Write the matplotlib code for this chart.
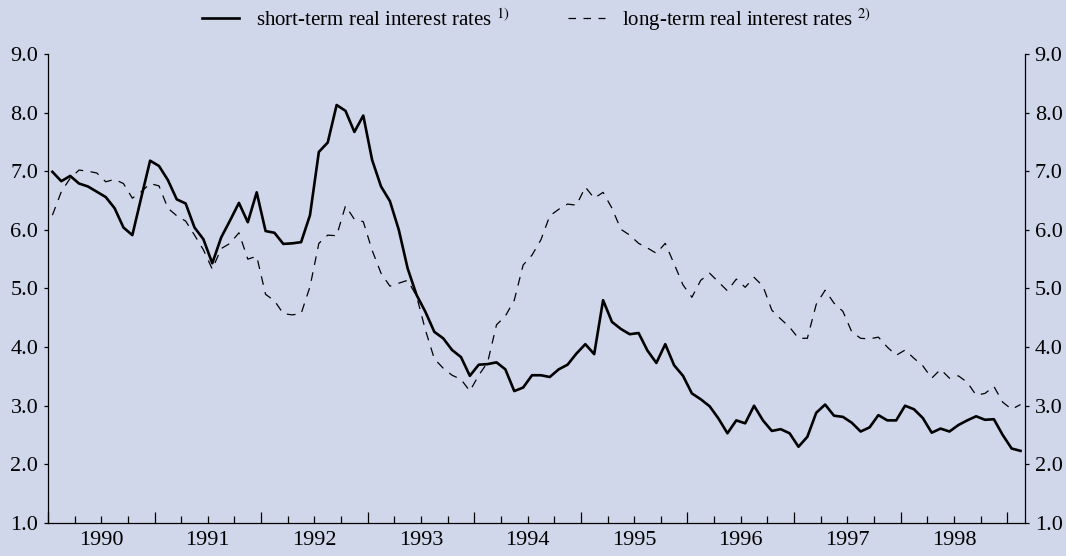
import matplotlib
matplotlib.use("Agg")
import matplotlib.pyplot as plt
import numpy as np
from matplotlib.ticker import MultipleLocator, NullFormatter

# monthly observations, Jan 1990 - Feb 1999
short_term = [
    6.99, 6.83, 6.92, 6.79, 6.74, 6.65, 6.56, 6.37, 6.04, 5.91,
    6.55, 7.18, 7.09, 6.85, 6.52, 6.45, 6.04, 5.84, 5.43, 5.87,
    6.16, 6.46, 6.13, 6.64, 5.98, 5.95, 5.76, 5.77, 5.79, 6.25,
    7.33, 7.49, 8.13, 8.03, 7.67, 7.95, 7.19, 6.74, 6.49, 6.00,
    5.34, 4.89, 4.60, 4.26, 4.15, 3.95, 3.83, 3.51, 3.70, 3.71,
    3.74, 3.62, 3.25, 3.31, 3.52, 3.52, 3.49, 3.62, 3.70, 3.89,
    4.05, 3.88, 4.80, 4.43, 4.31, 4.22, 4.24, 3.94, 3.73, 4.05,
    3.69, 3.51, 3.21, 3.11, 2.99, 2.78, 2.53, 2.75, 2.70, 3.00,
    2.75, 2.57, 2.60, 2.53, 2.30, 2.47, 2.88, 3.02, 2.83, 2.81,
    2.71, 2.56, 2.63, 2.84, 2.75, 2.75, 3.00, 2.94, 2.79, 2.54,
    2.61, 2.56, 2.67, 2.75, 2.82, 2.76, 2.77, 2.50, 2.27, 2.23,
]
long_term = [
    6.25, 6.65, 6.88, 7.02, 7.00, 6.97, 6.82, 6.86, 6.79, 6.54,
    6.65, 6.79, 6.75, 6.37, 6.24, 6.15, 5.91, 5.66, 5.33, 5.68,
    5.77, 5.95, 5.50, 5.55, 4.90, 4.79, 4.57, 4.55, 4.57, 5.03,
    5.77, 5.91, 5.90, 6.41, 6.18, 6.14, 5.65, 5.26, 5.04, 5.09,
    5.14, 4.87, 4.29, 3.80, 3.64, 3.52, 3.45, 3.25, 3.52, 3.74,
    4.38, 4.53, 4.80, 5.40, 5.57, 5.83, 6.24, 6.35, 6.44, 6.42,
    6.73, 6.54, 6.64, 6.37, 6.01, 5.91, 5.77, 5.69, 5.60, 5.77,
    5.42, 5.06, 4.85, 5.14, 5.26, 5.11, 4.96, 5.16, 5.02, 5.19,
    5.04, 4.63, 4.48, 4.34, 4.15, 4.15, 4.73, 4.97, 4.75, 4.61,
    4.26, 4.15, 4.14, 4.17, 4.00, 3.86, 3.95, 3.81, 3.68, 3.47,
    3.62, 3.47, 3.51, 3.40, 3.18, 3.21, 3.33, 3.06, 2.94, 3.02,
]
years = ["1990", "1991", "1992", "1993", "1994", "1995", "1996", "1997", "1998"]
y_ticks = [1.0, 2.0, 3.0, 4.0, 5.0, 6.0, 7.0, 8.0, 9.0]

bg = "#d1d7eb"
plt.rcParams["font.family"] = ["Liberation Serif", "DejaVu Serif"]
plt.rcParams["mathtext.fontset"] = "stix"

fig = plt.figure(figsize=(10.66, 5.56), dpi=100, facecolor=bg)
ax = fig.add_axes([0.045, 0.0594, 0.9165, 0.8435], facecolor=bg)

months = np.arange(len(short_term)) + 0.5
ax.plot(months, short_term, color="black", linewidth=1.9,
        label="short-term real interest rates $^{1)}$")
ax.plot(months, long_term, color="black", linewidth=0.9, dashes=(7, 6),
        label="long-term real interest rates $^{2)}$")

ax.set_xlim(0, len(short_term))
ax.set_ylim(1, 9)

ax.xaxis.set_major_locator(MultipleLocator(12))
ax.xaxis.set_minor_locator(MultipleLocator(3))
ax.xaxis.set_major_formatter(NullFormatter())
ax.xaxis.set_minor_formatter(NullFormatter())
for i, yr in enumerate(years):
    ax.text(12 * i + 6, -0.018, yr, transform=ax.get_xaxis_transform(),
            ha="center", va="top", fontsize=16)

ax.set_yticks(y_ticks)
ax.set_yticklabels([f"{v:.1f}" for v in y_ticks])
ax.tick_params(axis="y", direction="out", length=3, width=0.9, labelsize=16,
               left=True, right=True, labelleft=True, labelright=True, pad=4)
ax.tick_params(axis="x", which="major", direction="in", length=8, width=0.9)
ax.tick_params(axis="x", which="minor", direction="in", length=5, width=0.9)

ax.spines["top"].set_visible(False)
for s in ["left", "right", "bottom"]:
    ax.spines[s].set_linewidth(0.9)

leg = ax.legend(loc="lower center", bbox_to_anchor=(0.5, 1.028), ncol=2,
                frameon=False, fontsize=15, handlelength=1.8, handletextpad=0.8,
                columnspacing=2.8, borderaxespad=0)
leg.get_lines()[1].set_dashes((6, 6))

fig.savefig("out.png", dpi=100, facecolor=bg)
